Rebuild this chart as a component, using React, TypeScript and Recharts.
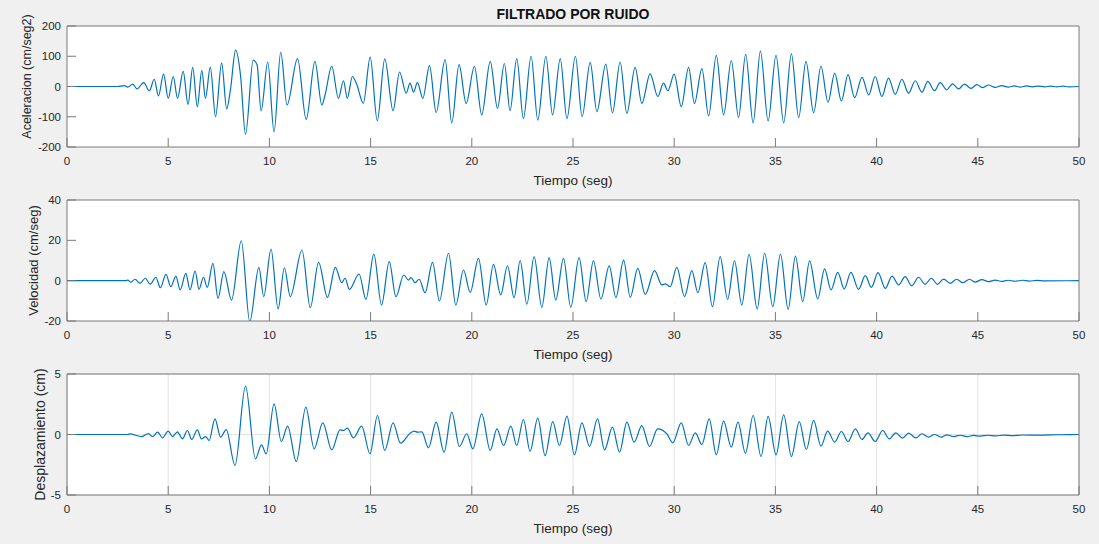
import React from 'react';
import { LineChart, Line, XAxis, YAxis, CartesianGrid } from 'recharts';

// [tiempo (seg), valor] at each crest / trough of the filtered record
const aceleracion: [number, number][] = [
  [0, 0], [2.5, 0], [2.84, 3], [3.0, -2], [3.25, 8], [3.46, -8], [3.79, 13], [4.07, -14],
  [4.31, 24], [4.52, -31], [4.77, 41], [5.0, -39], [5.25, 33], [5.46, -39], [5.74, 50],
  [5.98, -59], [6.21, 63], [6.44, -67], [6.66, 53], [6.84, -39], [7.08, 64], [7.34, -100],
  [7.64, 78], [7.89, -74], [8.08, -8], [8.33, 120], [8.57, 39], [8.82, -158], [9.2, 87],
  [9.39, 72], [9.59, -81], [9.92, 81], [10.23, -150], [10.56, 114], [10.87, -61], [11.39, 92],
  [11.82, -109], [12.25, 83], [12.59, -61], [12.75, -28], [13.08, 67], [13.41, -39], [13.66, 19],
  [13.85, -39], [14.1, 33], [14.31, 8], [14.64, -56], [14.98, 97], [15.33, -113], [15.7, 91],
  [16.11, -80], [16.43, 48], [16.76, -22], [16.95, 11], [17.12, -19], [17.31, 13], [17.58, -39],
  [17.91, 69], [18.24, -86], [18.68, 89], [19.01, -120], [19.37, 72], [19.72, -56], [20.13, 67],
  [20.49, -94], [20.91, 83], [21.27, -72], [21.61, 76], [21.89, -80], [22.22, 92], [22.55, -106],
  [22.93, 100], [23.26, -111], [23.66, 100], [23.99, -94], [24.37, 92], [24.7, -106], [25.12, 100],
  [25.45, -100], [25.85, 80], [26.18, -83], [26.62, 74], [26.95, -87], [27.33, 81], [27.66, -89],
  [28.07, 63], [28.4, -56], [28.81, 42], [29.19, -33], [29.47, 11], [29.69, -14], [30.0, 41],
  [30.35, -67], [30.71, 63], [31.0, -56], [31.37, 59], [31.7, -97], [32.08, 103], [32.44, -94],
  [32.82, 86], [33.18, -102], [33.53, 106], [33.9, -120], [34.26, 117], [34.64, -114], [35.03, 103],
  [35.41, -120], [35.79, 108], [36.15, -103], [36.51, 83], [36.89, -87], [37.25, 67], [37.6, -52],
  [37.93, 44], [38.26, -48], [38.59, 39], [38.91, -37], [39.28, 30], [39.61, -28], [39.93, 33],
  [40.26, -33], [40.59, 28], [40.92, -26], [41.25, 24], [41.58, -22], [41.91, 19], [42.24, -19],
  [42.53, 17], [42.86, -14], [43.14, 13], [43.47, -11], [43.75, 9], [44.05, -8], [44.34, 8],
  [44.67, -6], [44.95, 6], [45.25, -4], [45.53, 5], [45.86, -3], [46.18, 3], [46.51, -2],
  [46.8, 2], [47.1, -2], [47.4, 2], [47.7, -1], [48.0, 1.5], [48.3, -1], [48.6, 1], [48.9, -1],
  [49.2, 1], [49.5, -1], [50, 0],
];

const velocidad: [number, number][] = [
  [0, 0], [2.9, 0], [3.0, 0.3], [3.16, -0.7], [3.36, 0.7], [3.61, -1.3], [3.87, 1.2], [4.11, -1.7],
  [4.39, 1.7], [4.61, -3.5], [4.89, 3.1], [5.13, -3.0], [5.38, 2.3], [5.59, -4.6], [5.87, 3.6],
  [6.08, -4.6], [6.33, 4.8], [6.52, -4.3], [6.74, 1.7], [6.93, -3.3], [7.21, 8.6], [7.46, -8.8],
  [7.75, 4.5], [8.13, -9.6], [8.61, 19.8], [9.03, -20.3], [9.48, 6.6], [9.72, -7.9], [10.08, 15.7],
  [10.43, -14], [10.74, 6.4], [11.03, -7.9], [11.61, 15.2], [12.02, -13.4], [12.43, 9.1],
  [12.87, -8.3], [13.26, 6.6], [13.57, -1.0], [13.74, 1.2], [13.95, -4.3], [14.43, 3.3],
  [14.77, -9.3], [15.16, 13.2], [15.54, -12.1], [15.92, 9.4], [16.25, -7.9], [16.64, 2.8],
  [16.87, 0.3], [17.0, 1.5], [17.2, -1.0], [17.4, 0.7], [17.69, -6], [18.06, 9.1], [18.4, -10],
  [18.85, 13.6], [19.21, -12.1], [19.59, 5.3], [19.92, -5.8], [20.33, 11.1], [20.71, -12.1],
  [21.07, 8.1], [21.43, -7.1], [21.76, 7.4], [22.09, -8.4], [22.39, 9.9], [22.72, -11.7],
  [23.08, 11.9], [23.46, -13.2], [23.82, 11.4], [24.15, -9.6], [24.53, 11.1], [24.89, -13.2],
  [25.3, 11.4], [25.65, -10.4], [26.01, 9.8], [26.38, -9.1], [26.79, 7.3], [27.12, -8.4],
  [27.5, 10.2], [27.83, -8.3], [28.2, 6.1], [28.57, -6.8], [29.03, 5.0], [29.39, -2.1],
  [29.57, -1.6], [29.8, -3], [30.13, 6.6], [30.51, -7.9], [30.87, 5.0], [31.17, -6], [31.53, 8.9],
  [31.89, -12.9], [32.27, 11.9], [32.64, -9.3], [32.98, 9.8], [33.34, -12.1], [33.7, 13.1],
  [34.1, -14], [34.47, 13.6], [34.87, -12.9], [35.25, 13.2], [35.63, -14.2], [35.99, 12.2],
  [36.35, -10.4], [36.69, 9.8], [37.09, -9.1], [37.43, 5.8], [37.75, -4.6], [38.08, 4.1],
  [38.4, -4.1], [38.73, 4.1], [39.11, -4.3], [39.44, 2.5], [39.74, -3.3], [40.07, 4.0],
  [40.43, -3.8], [40.76, 2.3], [41.09, -2.1], [41.41, 2.0], [41.74, -2.6], [42.07, 1.7],
  [42.4, -1.8], [42.7, 1.2], [43.01, -1.8], [43.31, 0.8], [43.63, -1.3], [43.96, 0.7],
  [44.26, -1.0], [44.59, 0.7], [44.87, -0.7], [45.2, 0.5], [45.53, -0.5], [45.86, 0.3],
  [46.18, -0.4], [46.5, 0.2], [46.85, -0.3], [47.2, 0.2], [47.55, -0.2], [47.9, 0.1],
  [48.3, -0.1], [50, 0],
];

const desplazamiento: [number, number][] = [
  [0, 0], [3.0, 0], [3.08, 0.05], [3.7, -0.17], [4.02, 0.08], [4.23, -0.17], [4.48, 0.19],
  [4.72, -0.28], [5.0, 0.28], [5.21, -0.17], [5.46, 0.22], [5.7, -0.36], [5.95, 0.33],
  [6.16, -0.41], [6.44, 0.39], [6.64, -0.36], [6.85, -0.17], [7.02, -0.5], [7.31, 1.29],
  [7.59, -0.22], [7.87, 0.41], [8.3, -2.56], [8.82, 3.99], [9.31, -2.01], [9.61, -0.85],
  [9.84, -1.6], [10.23, 2.53], [10.59, -0.58], [10.9, 0.69], [11.33, -2.23], [11.8, 2.26],
  [12.21, -1.18], [12.64, 0.96], [13.08, -1.27], [13.49, 0.39], [13.66, 0.33], [13.85, 0.52],
  [14.15, -0.28], [14.56, 0.69], [14.97, -1.6], [15.34, 1.57], [15.7, -1.32], [16.11, 0.96],
  [16.48, -0.72], [16.95, 0.1], [17.15, 0.28], [17.31, 0.19], [17.53, 0.22], [17.86, -1.1],
  [18.24, 1.02], [18.63, -1.46], [19.01, 1.85], [19.39, -0.99], [19.75, 0.06], [20.05, -1.18],
  [20.49, 1.71], [20.91, -1.32], [21.24, 0.47], [21.57, -0.91], [21.93, 0.69], [22.22, -0.91],
  [22.55, 1.24], [22.88, -1.38], [23.26, 1.35], [23.62, -1.74], [24.0, 1.07], [24.33, -0.91],
  [24.7, 1.52], [25.07, -1.68], [25.44, 0.96], [25.82, -0.99], [26.21, 1.29], [26.56, -1.27],
  [26.95, 0.61], [27.3, -1.46], [27.66, 1.02], [28.02, -0.63], [28.4, 0.74], [28.78, -0.99],
  [29.18, 0.47], [29.64, 0.05], [29.93, -0.69], [30.35, 0.96], [30.71, -0.91], [31.04, 0.14],
  [31.37, -0.83], [31.73, 1.29], [32.08, -1.68], [32.44, 1.1], [32.82, -1.05], [33.15, 1.02],
  [33.52, -1.56], [33.9, 1.57], [34.29, -1.82], [34.64, 1.49], [35.03, -1.68], [35.41, 1.63],
  [35.79, -1.82], [36.18, 1.07], [36.53, -1.24], [36.89, 1.16], [37.25, -0.96], [37.58, 0.28],
  [37.93, -0.63], [38.26, 0.25], [38.59, -0.58], [38.95, 0.47], [39.28, -0.41], [39.57, 0.14],
  [39.93, -0.58], [40.3, 0.33], [40.63, -0.36], [40.95, 0.14], [41.28, -0.3], [41.58, 0.11],
  [41.94, -0.28], [42.24, 0.06], [42.57, -0.22], [42.86, 0], [43.19, -0.22], [43.47, -0.03],
  [43.8, -0.17], [44.13, -0.06], [44.46, -0.17], [44.79, -0.08], [45.12, -0.14], [45.5, -0.06],
  [45.9, -0.12], [46.3, -0.05], [46.7, -0.09], [47.2, -0.04], [48, -0.05], [49, -0.02], [50, 0],
];

const tiempoTicks = [0, 5, 10, 15, 20, 25, 30, 35, 40, 45, 50];
const acelTicks = [-200, -100, 0, 100, 200];
const velTicks = [-20, 0, 20, 40];
const despTicks = [-5, 0, 5];

const FONT = '"Liberation Sans", Arial, Helvetica, sans-serif';
const TEXT = '#262626';
const AXIS = '#7a7a7a';
const LINE = '#0072BD';

const toRows = (pts: [number, number][]) => pts.map(([t, v]) => ({ t, v }));

// vertical axis title, rotated, placed at a fixed x left of the tick labels
const rotatedLabel = (text: string, x: number, size: number, shift: number) => (props: any) => {
  const vb = props && props.viewBox ? props.viewBox : { y: 26, height: 121 };
  const cy = vb.y + vb.height / 2 + shift;
  return (
    <text
      x={x}
      y={cy}
      transform={`rotate(-90, ${x}, ${cy})`}
      textAnchor="middle"
      dominantBaseline="central"
      fill={TEXT}
      fontSize={size}
    >
      {text}
    </text>
  );
};

interface PanelProps {
  top: number;
  points: [number, number][];
  yTicks: number[];
  yLabel: string;
  labelX: number;
  labelSize: number;
  labelShift?: number;
  grid?: boolean;
}

const Panel: React.FC<PanelProps> = ({ top, points, yTicks, yLabel, labelX, labelSize, labelShift = 0, grid = false }) => {
  const yDomain = [yTicks[0], yTicks[yTicks.length - 1]];
  return (
    <div style={{ position: 'absolute', left: 0, top }}>
      <LineChart width={1099} height={192} data={toRows(points)} margin={{ top: 25, right: 19, bottom: 0, left: 0 }}>
        <CartesianGrid fill="#ffffff" stroke="#e2e2e2" horizontal={grid} vertical={grid} />
        <XAxis
          dataKey="t"
          type="number"
          domain={[0, 50]}
          ticks={tiempoTicks}
          allowDataOverflow
          height={45}
          stroke={AXIS}
          tickSize={-9}
          tickMargin={19}
          tick={{ fill: TEXT, fontSize: 11.5 }}
          label={{ value: 'Tiempo (seg)', position: 'insideBottom', offset: 7, fill: TEXT, fontSize: 13.5 }}
        />
        <XAxis
          xAxisId="top"
          orientation="top"
          type="number"
          domain={[0, 50]}
          ticks={tiempoTicks}
          allowDataOverflow
          height={1}
          stroke={AXIS}
          tickSize={-9}
          tick={false}
        />
        <YAxis
          type="number"
          domain={yDomain}
          ticks={yTicks}
          allowDataOverflow
          width={67}
          stroke={AXIS}
          tickSize={-9}
          tickMargin={15}
          tick={{ fill: TEXT, fontSize: 11.5 }}
          label={rotatedLabel(yLabel, labelX, labelSize, labelShift)}
        />
        <YAxis
          yAxisId="right"
          orientation="right"
          type="number"
          domain={yDomain}
          ticks={yTicks}
          allowDataOverflow
          width={1}
          stroke={AXIS}
          tickSize={-9}
          tick={false}
        />
        <Line dataKey="v" type="monotone" stroke={LINE} strokeWidth={1.2} dot={false} isAnimationActive={false} />
      </LineChart>
    </div>
  );
};

export default function App() {
  return (
    <div style={{ position: 'absolute', left: 0, top: 0, width: 1099, height: 544, background: '#f0f0f0', fontFamily: FONT, overflow: 'hidden' }}>
      <div style={{ position: 'absolute', left: 67, top: 6, width: 1012, textAlign: 'center', fontWeight: 'bold', fontSize: 14, lineHeight: '17px', color: '#111' }}>
        FILTRADO POR RUIDO
      </div>
      <Panel top={0} points={aceleracion} yTicks={acelTicks} yLabel="Aceleracion (cm/seg2)" labelX={26.5} labelSize={12.5} labelShift={-10} />
      <Panel top={174} points={velocidad} yTicks={velTicks} yLabel="Velocidad (cm/seg)" labelX={33.5} labelSize={13} />
      <Panel top={348} points={desplazamiento} yTicks={despTicks} yLabel="Desplazamiento (cm)" labelX={40} labelSize={14} grid />
    </div>
  );
}
